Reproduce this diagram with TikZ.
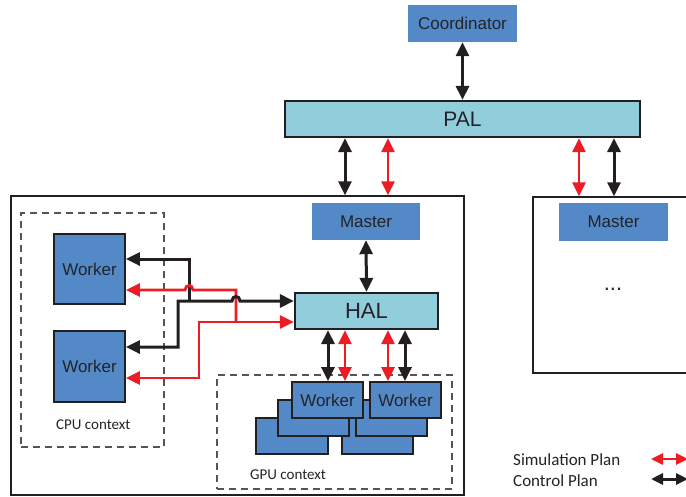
\documentclass[tikz,border=0pt]{standalone}
\usepackage{fontspec}
\setmainfont{Liberation Sans}
\newfontfamily\ctxfont{Carlito}
\usetikzlibrary{arrows.meta,calc}

\definecolor{boxblue}{RGB}{84,137,200}
\definecolor{halcyan}{RGB}{146,205,220}
\definecolor{sigred}{RGB}{237,28,36}
\definecolor{inkblack}{RGB}{35,31,32}
\definecolor{txtgray}{RGB}{35,35,40}
\definecolor{dashgray}{RGB}{85,85,85}

\tikzset{
  bigtip/.tip={Triangle[length=14pt,width=13pt]},
  smalltip/.tip={Triangle[length=12pt,width=11pt]},
  ctrl/.style={draw=inkblack, line width=3pt},
  sim/.style={draw=sigred, line width=2.8pt},
  plainbox/.style={fill=boxblue, text=txtgray, inner sep=0pt,
    font=\fontsize{17}{20}\selectfont},
  workerbox/.style={plainbox, draw=inkblack, line width=1.8pt},
  layerbox/.style={fill=halcyan, draw=inkblack, line width=2.2pt,
    text=txtgray, inner sep=0pt},
  clusterbox/.style={draw=inkblack, line width=1.5pt, inner sep=0pt},
  ctxbox/.style={draw=dashgray, dash pattern=on 7pt off 5pt,
    line width=1.2pt, inner sep=0pt},
  ctxlabel/.style={text=txtgray, inner sep=0pt, anchor=west,
    font=\ctxfont\fontsize{15}{18}\selectfont},
  legendlabel/.style={text=txtgray, inner sep=0pt, anchor=west,
    font=\ctxfont\fontsize{17}{20}\selectfont},
}

\begin{document}
\begin{tikzpicture}[x=1pt,y=-1pt]
\useasboundingbox (0,0) rectangle (686,496);

% --- clusters and execution contexts ---
\node[clusterbox, minimum width=453pt, minimum height=299pt] (cl) at (237.5,345.5) {};
\node[clusterbox, minimum width=167pt, minimum height=176pt] (cr) at (616.5,285) {};
\node[ctxbox, minimum width=143pt, minimum height=234pt] (cpu) at (92.5,330) {};
\node[ctxbox, minimum width=235pt, minimum height=114pt] (gpu) at (334.5,432) {};

% --- top level ---
\node[plainbox, minimum width=109pt, minimum height=37pt] (coord) at (462.5,23.5) {Coordinator};
\node[layerbox, minimum width=355pt, minimum height=36pt,
      font=\fontsize{21}{24}\selectfont] (pal) at (462.5,119) {PAL};

% --- left cluster ---
\node[plainbox, minimum width=108pt, minimum height=37pt] (ml) at (366,221.5) {Master};
\node[layerbox, minimum width=143pt, minimum height=36pt,
      font=\fontsize{22}{25}\selectfont] (hal) at (366.5,311) {HAL};

\node[workerbox, minimum width=71pt, minimum height=70pt] (w1) at (89.5,269) {Worker};
\node[workerbox, minimum width=71pt, minimum height=71pt] (w2) at (89.5,366.5) {Worker};

% GPU worker stacks, back to front
\node[workerbox, minimum width=72pt, minimum height=36pt] (ga3) at (292,436) {};
\node[workerbox, minimum width=71pt, minimum height=36pt] (gb3) at (377.5,436) {};
\node[workerbox, minimum width=71pt, minimum height=36pt] (ga2) at (313.5,418) {};
\node[workerbox, minimum width=71pt, minimum height=36pt] (gb2) at (391.5,418) {};
\node[workerbox, minimum width=71pt, minimum height=36pt] (ga1) at (327.5,400) {Worker};
\node[workerbox, minimum width=71pt, minimum height=36pt] (gb1) at (405.5,400) {Worker};

\node[ctxlabel] (cpulbl) at (56,425) {CPU context};
\node[ctxlabel] (gpulbl) at (250,475) {GPU context};

% --- right cluster ---
\node[plainbox, minimum width=109pt, minimum height=38pt] (mr) at (613.5,222) {Master};
\node[text=txtgray, inner sep=0pt, font=\fontsize{22}{25}\selectfont] (dots) at (613,289) {...};

% --- vertical links ---
\coordinate (xa) at (345,0);
\coordinate (xb) at (388,0);
\coordinate (xc) at (579,0);
\coordinate (xd) at (614,0);
\coordinate (xe) at (328,0);
\coordinate (xf) at (405,0);

\draw[ctrl, bigtip-bigtip] (coord.south) -- (pal.north);
\draw[ctrl, bigtip-bigtip] (xa |- pal.south) -- (xa |- cl.north);
\draw[sim,  bigtip-bigtip] (xb |- pal.south) -- (xb |- cl.north);
\draw[sim,  bigtip-bigtip] (xc |- pal.south) -- (xc |- cr.north);
\draw[ctrl, bigtip-bigtip] (xd |- pal.south) -- (xd |- cr.north);
\draw[ctrl, bigtip-bigtip] (ml.south) -- (hal.north);

\draw[ctrl, bigtip-bigtip] (xe |- hal.south) -- (xe |- ga1.north);
\draw[sim,  bigtip-bigtip] (xa |- hal.south) -- (xa |- ga1.north);
\draw[sim,  bigtip-bigtip] (xb |- hal.south) -- (xb |- gb1.north);
\draw[ctrl, bigtip-bigtip] (xf |- hal.south) -- (xf |- gb1.north);

% --- CPU worker links into HAL ---
\coordinate (halk) at ($(hal.west)+(0,-10)$);
\coordinate (halr) at ($(hal.west)+(0,11)$);
\coordinate (w1k) at ($(w1.east)+(0,-10)$);
\coordinate (w1r) at ($(w1.east)+(0,21)$);
\coordinate (w2k) at ($(w2.east)+(0,-19.5)$);
\coordinate (w2r) at ($(w2.east)+(0,11.5)$);

% control branch to the upper worker
\draw[ctrl, -bigtip, line join=miter] (189,0 |- halk) -- (189,0 |- w1k) -- (w1k);
% simulation branch to the upper worker, hopping over the control line
\draw[sim, -bigtip, line join=miter] (236,0 |- halr) -- (236,0 |- w1r) -- (193,0 |- w1r)
  .. controls (193,284) and (185,284) .. (185,0 |- w1r) -- (w1r);
% simulation trunk to the lower worker
\draw[sim, bigtip-bigtip, line join=miter] (halr) -- (199,0 |- halr) -- (199,0 |- w2r) -- (w2r);
% control trunk to the lower worker, hopping over the simulation line
\draw[ctrl, bigtip-bigtip, line join=miter] (halk) -- (240,0 |- halk)
  .. controls (240,295) and (232,295) .. (232,0 |- halk)
  -- (178,0 |- halk) -- (178,0 |- w2k) -- (w2k);

% --- legend ---
\node[legendlabel] (lsim) at (513,460) {Simulation Plan};
\node[legendlabel] (lctl) at (513,481) {Control Plan};
\coordinate (lsa) at (651,459);
\coordinate (lsb) at (688,459);
\coordinate (lca) at (651,479);
\coordinate (lcb) at (688,479);
\draw[sim,  smalltip-smalltip] (lsa) -- (lsb);
\draw[ctrl, smalltip-smalltip] (lca) -- (lcb);
\end{tikzpicture}
\end{document}
